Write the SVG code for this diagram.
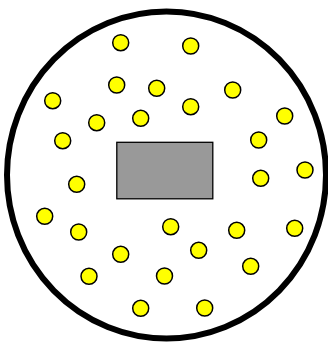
<svg xmlns="http://www.w3.org/2000/svg" width="328" height="342" viewBox="0 0 328 342">
<style>
.dot{fill:#ffff00;stroke:#000;stroke-width:1.5}
.boundary{fill:#fff;stroke:#000;stroke-width:6}
.block{fill:#999;stroke:#000;stroke-width:1.3}
</style>
<rect width="328" height="342" fill="#fff"/>
<g id="boundary"><ellipse class="boundary" cx="166.5" cy="175" rx="159.5" ry="163.5"/></g>
<g id="block"><rect class="block" x="116.8" y="142.3" width="96" height="56.5"/></g>
<g id="connectors"></g>
<g id="dots">
<g id="d1"><circle class="dot" cx="120.7" cy="42.7" r="8"/></g>
<g id="d2"><circle class="dot" cx="190.7" cy="46" r="8"/></g>
<g id="d3"><circle class="dot" cx="116.7" cy="85" r="8"/></g>
<g id="d4"><circle class="dot" cx="156.7" cy="88.3" r="8"/></g>
<g id="d5"><circle class="dot" cx="232.7" cy="90" r="8"/></g>
<g id="d6"><circle class="dot" cx="52.7" cy="100.7" r="8"/></g>
<g id="d7"><circle class="dot" cx="190.7" cy="106.7" r="8"/></g>
<g id="d8"><circle class="dot" cx="284.7" cy="116" r="8"/></g>
<g id="d9"><circle class="dot" cx="96.7" cy="122.7" r="8"/></g>
<g id="d10"><circle class="dot" cx="140.7" cy="118.3" r="8"/></g>
<g id="d11"><circle class="dot" cx="62.7" cy="140.7" r="8"/></g>
<g id="d12"><circle class="dot" cx="258.7" cy="140" r="8"/></g>
<g id="d13"><circle class="dot" cx="305" cy="170" r="8"/></g>
<g id="d14"><circle class="dot" cx="260.7" cy="178.3" r="8"/></g>
<g id="d15"><circle class="dot" cx="76.7" cy="184.3" r="8"/></g>
<g id="d16"><circle class="dot" cx="44.7" cy="216.3" r="8"/></g>
<g id="d17"><circle class="dot" cx="78.7" cy="232" r="8"/></g>
<g id="d18"><circle class="dot" cx="170.7" cy="226.7" r="8"/></g>
<g id="d19"><circle class="dot" cx="236.7" cy="230.3" r="8"/></g>
<g id="d20"><circle class="dot" cx="294.7" cy="228.3" r="8"/></g>
<g id="d21"><circle class="dot" cx="120.7" cy="254.3" r="8"/></g>
<g id="d22"><circle class="dot" cx="198.7" cy="250.3" r="8"/></g>
<g id="d23"><circle class="dot" cx="89" cy="276.3" r="8"/></g>
<g id="d24"><circle class="dot" cx="164.5" cy="276" r="8"/></g>
<g id="d25"><circle class="dot" cx="250.7" cy="266.3" r="8"/></g>
<g id="d26"><circle class="dot" cx="140.7" cy="308.3" r="8"/></g>
<g id="d27"><circle class="dot" cx="204.7" cy="308" r="8"/></g>
</g>
</svg>
